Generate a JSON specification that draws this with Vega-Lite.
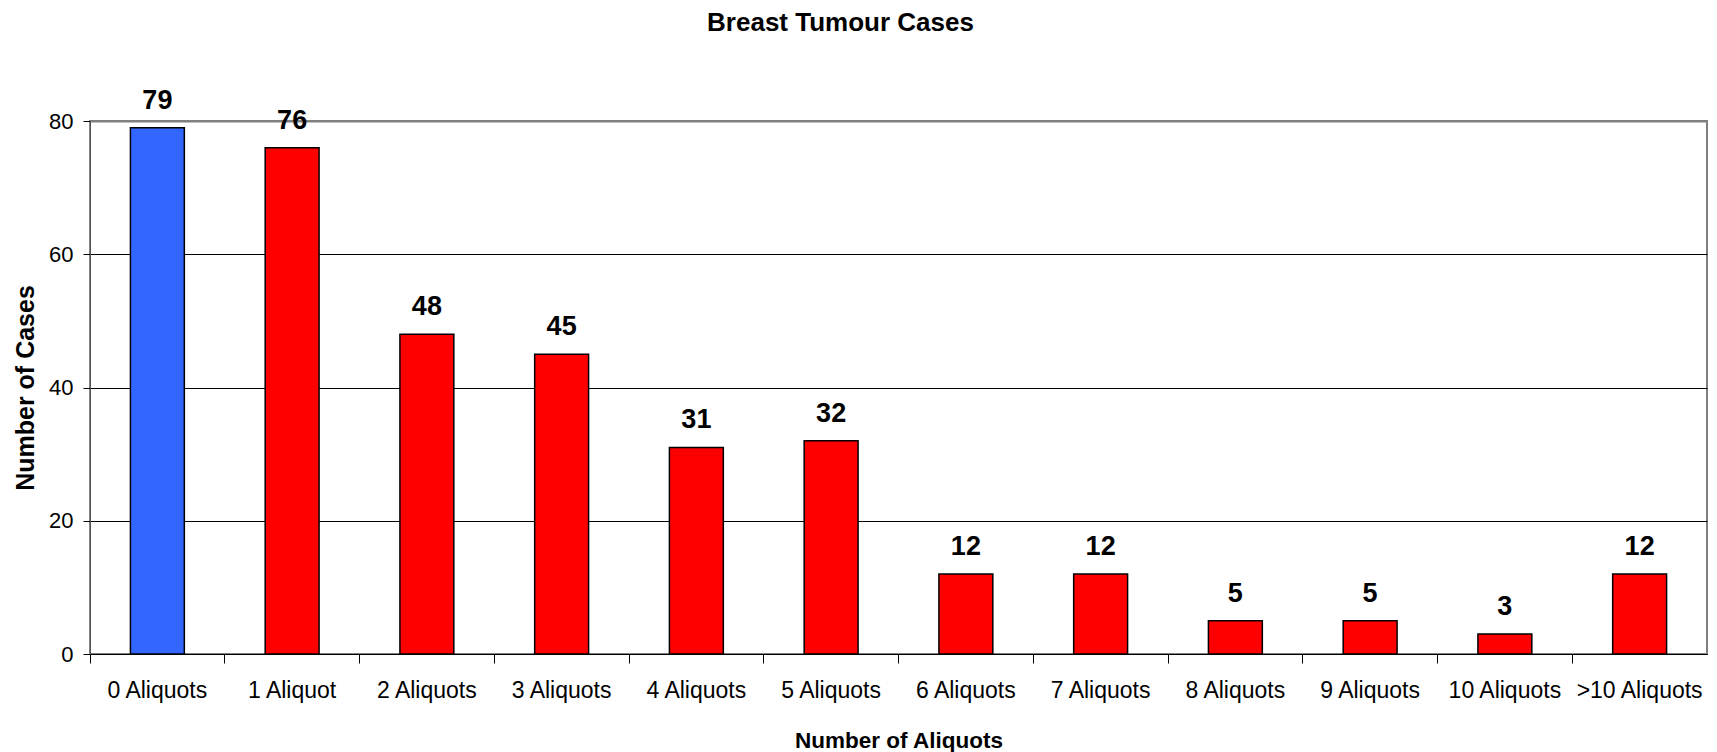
{
  "$schema": "https://vega.github.io/schema/vega-lite/v6.json",
  "autosize": "none",
  "width": 1617,
  "height": 533,
  "padding": {"left": 90, "top": 121, "right": 10, "bottom": 98},
  "background": "white",
  "config": {
    "font": "Liberation Sans",
    "view": {"stroke": "#808080", "strokeWidth": 2}
  },
  "title": {
    "text": "Breast Tumour Cases",
    "fontSize": 26,
    "fontWeight": "bold",
    "color": "black",
    "anchor": "middle",
    "frame": "group",
    "dx": -58,
    "offset": 51
  },
  "data": {
    "values": [
      {"aliquots": "0 Aliquots", "cases": 79},
      {"aliquots": "1 Aliquot", "cases": 76},
      {"aliquots": "2 Aliquots", "cases": 48},
      {"aliquots": "3 Aliquots", "cases": 45},
      {"aliquots": "4 Aliquots", "cases": 31},
      {"aliquots": "5 Aliquots", "cases": 32},
      {"aliquots": "6 Aliquots", "cases": 12},
      {"aliquots": "7 Aliquots", "cases": 12},
      {"aliquots": "8 Aliquots", "cases": 5},
      {"aliquots": "9 Aliquots", "cases": 5},
      {"aliquots": "10 Aliquots", "cases": 3},
      {"aliquots": ">10 Aliquots", "cases": 12}
    ]
  },
  "encoding": {
    "x": {
      "field": "aliquots",
      "type": "nominal",
      "sort": null,
      "scale": {"paddingInner": 0, "paddingOuter": 0},
      "axis": {
        "title": "Number of Aliquots",
        "titleFontSize": 22.5,
        "titleFontWeight": "bold",
        "titleColor": "black",
        "titlePadding": 27,
        "labelAngle": 0,
        "labelFontSize": 23,
        "labelColor": "black",
        "labelPadding": 16,
        "tickSize": 9,
        "tickColor": "black",
        "domainColor": "black",
        "bandPosition": 0,
        "grid": false
      }
    },
    "y": {
      "field": "cases",
      "type": "quantitative",
      "scale": {"domain": [0, 80], "nice": false},
      "axis": {
        "title": "Number of Cases",
        "titleFontSize": 25,
        "titleFontWeight": "bold",
        "titleColor": "black",
        "titleAngle": -90,
        "titleX": -65,
        "titleY": 266.5,
        "titleAlign": "center",
        "titleBaseline": "middle",
        "values": [0, 20, 40, 60, 80],
        "labelFontSize": 22,
        "labelColor": "black",
        "labelPadding": 10,
        "tickSize": 7,
        "tickColor": "black",
        "domainColor": "#555555",
        "grid": true,
        "gridColor": {"condition": {"test": "datum.value == 80", "value": "#808080"}, "value": "black"},
        "gridWidth": {"condition": {"test": "datum.value == 80", "value": 2}, "value": 1}
      }
    }
  },
  "layer": [
    {
      "mark": {"type": "bar", "width": {"band": 0.4}, "stroke": "black", "strokeWidth": 1.5},
      "encoding": {
        "color": {
          "condition": {"test": "datum.aliquots == '0 Aliquots'", "value": "#3366FF"},
          "value": "#FF0000"
        }
      }
    },
    {
      "mark": {"type": "text", "fontSize": 27, "fontWeight": "bold", "color": "black", "baseline": "alphabetic", "dy": -19},
      "encoding": {
        "text": {"field": "cases", "type": "quantitative"}
      }
    }
  ]
}
